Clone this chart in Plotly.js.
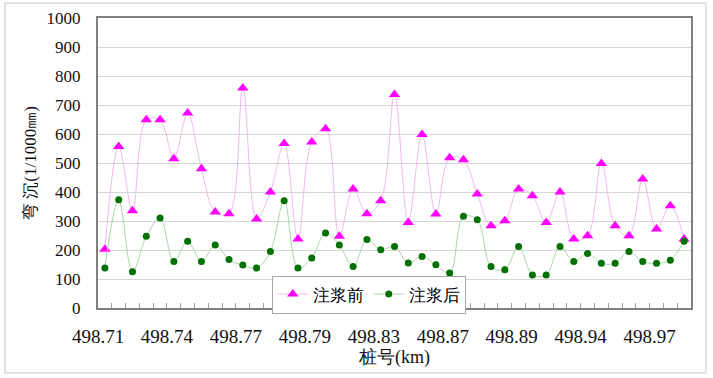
<!DOCTYPE html>
<html>
<head>
<meta charset="utf-8">
<script src="https://cdn.plot.ly/plotly-3.0.1.min.js"></script>
<style>
html,body{margin:0;padding:0;background:#fff;}
#chart{width:713px;height:378px;}
</style>
</head>
<body>
<div id="chart"></div>
<script>
// Data
var tickLabels = ['498.71','498.74','498.77','498.79','498.83','498.87','498.89','498.94','498.97'];
var seriesBeforeName = '注浆前';
var seriesAfterName = '注浆后';
var beforeValues = [203,557,335,649,649,515,672,480,331,325,759,307,400,567,238,572,618,247,410,325,370,736,295,598,324,518,511,393,284,301,410,387,295,400,238,249,498,284,249,445,272,353,238];
var afterValues  = [138,373,125,247,310,160,230,160,217,167,148,138,195,370,138,172,259,217,143,236,201,212,155,178,149,121,316,304,143,132,212,114,114,212,160,188,154,154,195,160,154,165,230];

var idx = beforeValues.map(function(_, i){ return i; });
var labelPos = tickLabels.map(function(_, k){ return -0.5 + 5*k; });
var boundaryPos = [];
for (var b = 0; b <= idx.length; b++) boundaryPos.push(b - 0.5);

var traces = [
  {
    x: idx, y: beforeValues, name: seriesBeforeName, type: 'scatter', mode: 'lines+markers',
    line: {color: '#f3b6f3', width: 1, shape: 'spline', smoothing: 1},
    marker: {symbol: 'triangle-up', color: '#ff00ff', size: 10}
  },
  {
    x: idx, y: afterValues, name: seriesAfterName, type: 'scatter', mode: 'lines+markers',
    line: {color: '#a9d6a9', width: 1, shape: 'spline', smoothing: 1},
    marker: {symbol: 'circle', color: '#007000', size: 7}
  },
  // invisible helper trace so the tick-mark axis is drawn
  {x: [idx[0]], y: [beforeValues[0]], xaxis: 'x2', yaxis: 'y', mode: 'markers',
   marker: {opacity: 0}, showlegend: false, hoverinfo: 'skip'}
];

var layout = {
  width: 713, height: 378,
  margin: {l: 98, r: 22, t: 18, b: 70},
  font: {family: 'Liberation Serif', color: '#111'},
  showlegend: true,
  legend: {
    orientation: 'h', x: 0.293, y: 0.112, xanchor: 'left', yanchor: 'top',
    bgcolor: '#ffffff', bordercolor: '#a6a6a6', borderwidth: 1,
    font: {size: 17, color: '#000'},
    itemwidth: 30, tracegroupgap: 0
  },
  xaxis: {
    range: [-0.5, idx.length - 0.5],
    tickmode: 'array', tickvals: labelPos, ticktext: tickLabels,
    ticks: 'outside', ticklen: 10, tickcolor: 'rgba(0,0,0,0)',
    showgrid: false, zeroline: false,
    showline: true, mirror: true, linecolor: '#7f7f7f', linewidth: 2,
    tickfont: {size: 19},
    title: {text: '桩号(km)', font: {size: 18}, standoff: 4}
  },
  xaxis2: {
    overlaying: 'x', anchor: 'y', side: 'bottom',
    range: [-0.5, idx.length - 0.5],
    tickmode: 'array', tickvals: boundaryPos, showticklabels: false,
    ticks: 'inside', ticklen: 5, tickcolor: '#a0a0a0',
    showgrid: false, zeroline: false, showline: false
  },
  yaxis: {
    range: [0, 1000], dtick: 100, tick0: 0,
    ticks: 'outside', ticklen: 12, tickcolor: 'rgba(0,0,0,0)',
    showgrid: true, gridcolor: '#d6d6d6', gridwidth: 1,
    zeroline: false,
    showline: true, mirror: true, linecolor: '#7f7f7f', linewidth: 2,
    tickfont: {size: 17},
    title: {text: '弯 沉(1/1000㎜)', font: {size: 17}, standoff: 6}
  },
  shapes: [
    {type: 'rect', xref: 'paper', yref: 'paper', x0: -0.1568, x1: 1.0253, y0: -0.2241, y1: 1.0517,
     line: {color: '#d9d9d9', width: 1.5}, fillcolor: 'rgba(0,0,0,0)', layer: 'below'}
  ]
};

Plotly.newPlot('chart', traces, layout, {staticPlot: true});
</script>
</body>
</html>
